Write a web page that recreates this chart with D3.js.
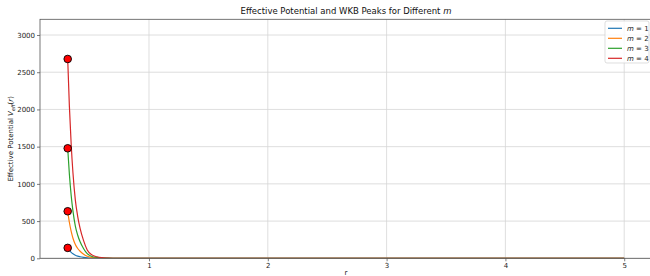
<!DOCTYPE html>
<html>
<head>
<meta charset="utf-8">
<script src="https://cdn.jsdelivr.net/npm/d3@7"></script>
<style>
  html, body { margin: 0; padding: 0; background: #fff; }
  svg { display: block; font-family: "DejaVu Sans", sans-serif; }
</style>
</head>
<body>
<svg id="chart" width="650" height="276"></svg>
<script>
// ---- data ----
const rValues = [0.3157, 0.33, 0.345, 0.36, 0.38, 0.40, 0.42, 0.45, 0.48, 0.52, 0.56, 0.60, 0.65, 0.70, 0.80, 1.0, 2.0, 3.0, 4.0, 5.0];
const seriesNames = ["m = 1", "m = 2", "m = 3", "m = 4"];
const mValues = [1, 2, 3, 4];
const vM1 = [140, 107, 80, 60, 41, 29, 21, 12, 6, 2.4, 1.1, 0.4, 0.1, 0, 0, 0, 0, 0, 0, 0];
const vM2 = [632, 481, 361, 270, 185, 132, 95, 55, 27, 11, 5, 2, 0.6, 0.3, 0, 0, 0, 0, 0, 0];
const vM3 = [1478, 1125, 844, 633, 432, 310, 222, 129, 62, 25, 12, 5, 1.5, 0.6, 0, 0, 0, 0, 0, 0];
const vM4 = [2678, 2038, 1529, 1146, 782, 561, 402, 234, 112, 46, 21, 8, 3, 1, 0, 0, 0, 0, 0, 0];
const peakR = [0.3157, 0.3157, 0.3157, 0.3157];
const peakV = [140, 632, 1478, 2678];
const xTicks = [1, 2, 3, 4, 5];
const yTicks = [0, 500, 1000, 1500, 2000, 2500, 3000];
const colors = ["#1f77b4", "#ff7f0e", "#2ca02c", "#d62728"];

const allSeries = [vM1, vM2, vM3, vM4];

// ---- layout ----
const svg = d3.select("#chart");
const L = 40, R = 652, T = 19.3, B = 258.3;

const x = d3.scaleLinear().domain([0.0825, 5.234]).range([L, R]);
const y = d3.scaleLinear().domain([0, 3211]).range([B, T]);

svg.append("rect").attr("width", 650).attr("height", 276).attr("fill", "#fff");

svg.append("defs").append("clipPath").attr("id", "clip")
  .append("rect").attr("x", L).attr("y", T).attr("width", R - L).attr("height", B - T);

// grid
const grid = svg.append("g");
grid.selectAll(".gx").data(xTicks).enter().append("line")
  .attr("x1", d => x(d)).attr("x2", d => x(d)).attr("y1", T).attr("y2", B)
  .attr("stroke", "#d6d6d6").attr("stroke-width", 0.8);
grid.selectAll(".gy").data(yTicks).enter().append("line")
  .attr("x1", L).attr("x2", R).attr("y1", d => y(d)).attr("y2", d => y(d))
  .attr("stroke", "#d6d6d6").attr("stroke-width", 0.8);

// lines
const line = d3.line().x((d, i) => x(rValues[i])).y(d => y(d)).curve(d3.curveMonotoneX);
const plot = svg.append("g").attr("clip-path", "url(#clip)");
allSeries.forEach((s, k) => {
  plot.append("path").datum(s).attr("d", line)
    .attr("fill", "none").attr("stroke", colors[k]).attr("stroke-width", 1.2);
});

// axes
const xAxis = d3.axisBottom(x).tickValues(xTicks).tickSize(3).tickPadding(2).tickFormat(d3.format("d"));
const yAxis = d3.axisLeft(y).tickValues(yTicks).tickSize(3).tickPadding(2).tickFormat(d3.format("d"));
const gx = svg.append("g").attr("transform", `translate(0,${B})`).call(xAxis);
const gy = svg.append("g").attr("transform", `translate(${L},0)`).call(yAxis);
[gx, gy].forEach(g => {
  g.select(".domain").remove();
  g.selectAll(".tick line").attr("stroke", "#444").attr("stroke-width", 0.7);
  g.selectAll(".tick text").attr("fill", "#222").style("font-size", "7px").style("font-family", "DejaVu Sans");
});

// spines
svg.append("rect").attr("x", L).attr("y", T).attr("width", R - L).attr("height", B - T)
  .attr("fill", "none").attr("stroke", "#555").attr("stroke-width", 0.8);

// peak markers
svg.append("g").selectAll("circle").data(peakV).enter().append("circle")
  .attr("cx", (d, i) => x(peakR[i])).attr("cy", d => y(d)).attr("r", 3.8)
  .attr("fill", "#ff0000").attr("stroke", "#000").attr("stroke-width", 0.9);

// title
const title = svg.append("text").attr("x", (L + R) / 2).attr("y", 14)
  .attr("text-anchor", "middle").style("font-size", "8.5px").attr("fill", "#111");
title.append("tspan").text("Effective Potential and WKB Peaks for Different ");
title.append("tspan").style("font-style", "italic").text("m");

// x label
svg.append("text").attr("x", (L + R) / 2).attr("y", 275)
  .attr("text-anchor", "middle").style("font-size", "7px").attr("fill", "#111").text("r");

// y label
const yl = svg.append("text").attr("transform", `translate(13,${(T + B) / 2}) rotate(-90)`)
  .attr("text-anchor", "middle").style("font-size", "7px").attr("fill", "#111");
yl.append("tspan").text("Effective Potential ");
yl.append("tspan").style("font-style", "italic").text("V");
yl.append("tspan").attr("dy", 1.5).style("font-size", "5px").style("font-style", "italic").text("eff");
yl.append("tspan").attr("dy", -1.5).text("(");
yl.append("tspan").style("font-style", "italic").text("r");
yl.append("tspan").text(")");

// legend
const lg = svg.append("g");
lg.append("rect").attr("x", 605).attr("y", 21).attr("width", 44).attr("height", 42).attr("rx", 2)
  .attr("fill", "#fff").attr("fill-opacity", 0.8).attr("stroke", "#d0d0d0").attr("stroke-width", 0.7);
seriesNames.forEach((n, k) => {
  const yy = 28.3 + k * 10;
  lg.append("line").attr("x1", 608).attr("x2", 622).attr("y1", yy).attr("y2", yy)
    .attr("stroke", colors[k]).attr("stroke-width", 1.2);
  const t = lg.append("text").attr("x", 627).attr("y", yy + 2.5).style("font-size", "7px").attr("fill", "#222");
  t.append("tspan").style("font-style", "italic").text("m");
  t.append("tspan").text(" = " + mValues[k]);
});
</script>
</body>
</html>
